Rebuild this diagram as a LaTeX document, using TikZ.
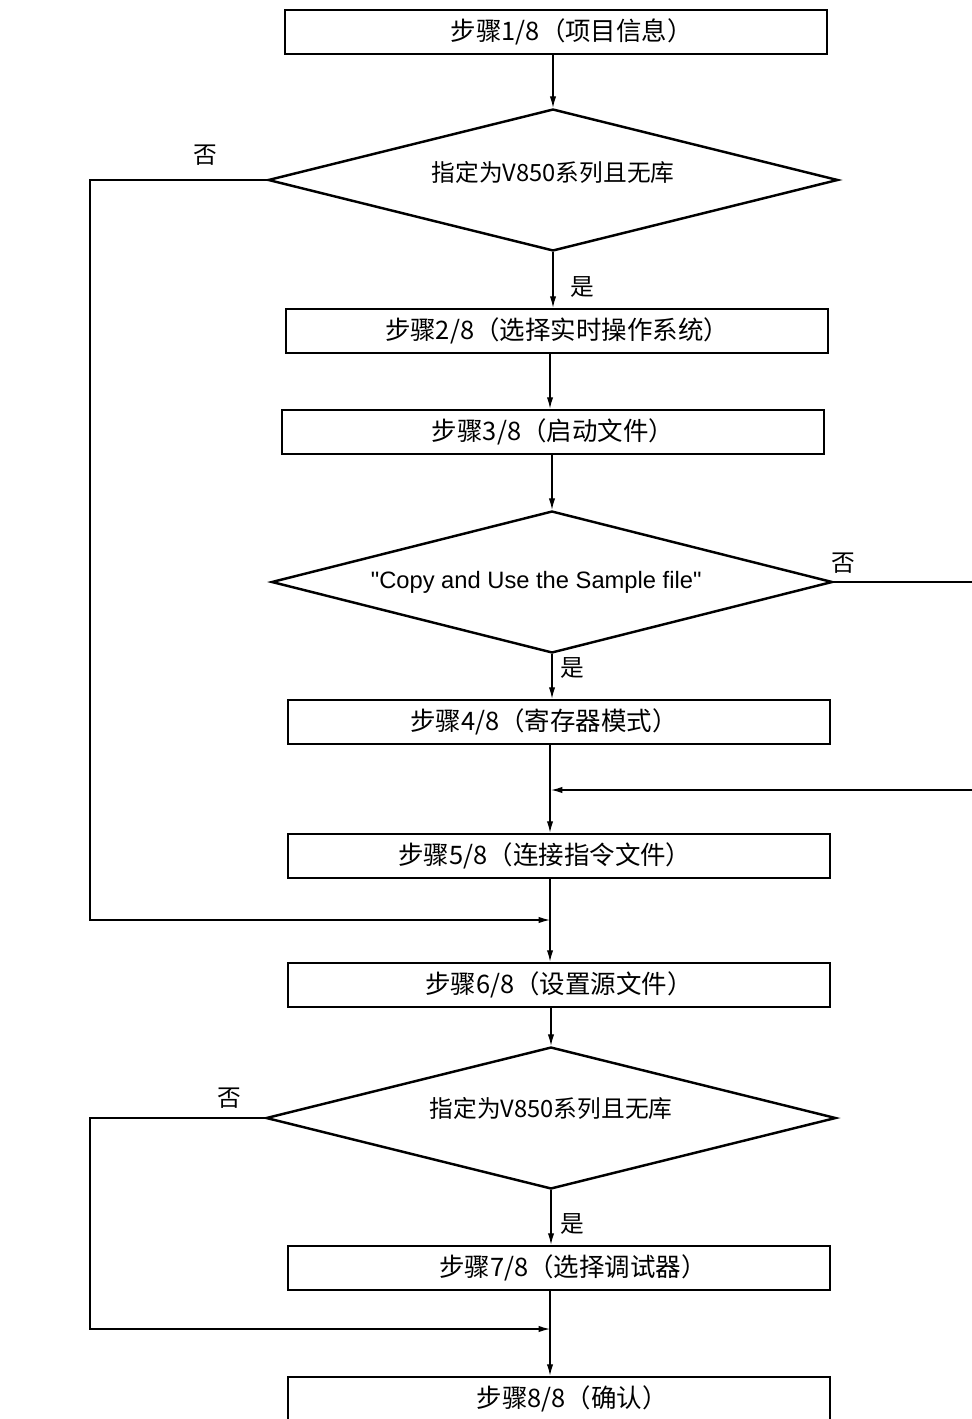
\documentclass[tikz,border=0pt]{standalone}
\usepackage{fontspec}
\setmainfont{Noto Sans CJK SC}
\newfontfamily\arialfont{Liberation Sans}
\usetikzlibrary{shapes.geometric,arrows.meta}
\newcommand\nudge[2]{\makebox[0pt]{\hspace*{#1}#2}}
\begin{document}
\begin{tikzpicture}[x=0.02cm,y=-0.02cm,>={Latex[length=6.5pt,width=3.6pt]},
  font=\fontsize{13.5}{16}\selectfont,
  box/.style={draw,line width=1.5pt,minimum width=10.84cm,minimum height=0.88cm,inner sep=0pt,font=\fontsize{14.5}{17}\selectfont},
  choice/.style={draw,diamond,shape aspect=4.01,line width=1.4pt,minimum width=11.4cm,minimum height=2.84cm,inner sep=0pt},
  flow/.style={->,line width=0.7pt}]
\useasboundingbox (0,0) rectangle (971,1419);
\coordinate (spine) at (550,0);
\coordinate (left) at (90,0);
\coordinate (right) at (990,0);
\node (b1) at (556,32)[box]{\nudge{18pt}{步骤1/8（项目信息）}};
\node (d1) at (553,180)[choice]{\raisebox{4.5pt}[\height][\depth]{指定为V850系列且无库}};
\node (b2) at (557,331)[box]{步骤2/8（选择实时操作系统）};
\node (b3) at (553,432)[box]{步骤3/8（启动文件）};
\node (d2) at (552,582)[choice,shape aspect=3.95,minimum width=11.22cm]{\arialfont\nudge{-18pt}{"Copy and Use the Sample file"}};
\node (b4) at (559,722)[box]{\nudge{-17pt}{步骤4/8（寄存器模式）}};
\node (b5) at (559,856)[box]{\nudge{-16pt}{步骤5/8（连接指令文件）}};
\node (b6) at (559,985)[box]{步骤6/8（设置源文件）};
\node (d3) at (551,1118)[choice]{\raisebox{5.5pt}[\height][\depth]{指定为V850系列且无库}};
\node (b7) at (559,1268)[box]{\nudge{16pt}{步骤7/8（选择调试器）}};
\node (b8) at (559,1399)[box]{\nudge{15pt}{步骤8/8（确认）}};
\node (n1) at (205,155){否};
\node (y1) at (582,287){是};
\node (n2) at (843,563){否};
\node (y2) at (572,668){是};
\node (n3) at (229,1098){否};
\node (y3) at (572,1224){是};
\coordinate (j1) at (550,920);
\coordinate (j2) at (551,790);
\coordinate (j3) at (550,1329);
\draw[flow](b1.south -| d1.north)--(d1.north);
\draw[flow](d1.south)--(d1.south |- b2.north);
\draw[flow](b2.south -| spine)--(b3.north -| spine);
\draw[flow](b3.south -| d2.north)--(d2.north);
\draw[flow](d2.south)--(d2.south |- b4.north);
\draw[flow](b4.south -| spine)--(b5.north -| spine);
\draw[flow](b5.south -| spine)--(b6.north -| spine);
\draw[flow](b6.south -| d3.north)--(d3.north);
\draw[flow](d3.south)--(d3.south |- b7.north);
\draw[flow](b7.south -| spine)--(b8.north -| spine);
\draw[flow](d1.west)--(d1.west -| left)--(left |- j1)--(j1);
\draw[flow](d2.east)--(d2.east -| right)--(right |- j2)--(j2);
\draw[flow](d3.west)--(d3.west -| left)--(left |- j3)--(j3);
\end{tikzpicture}
\end{document}
